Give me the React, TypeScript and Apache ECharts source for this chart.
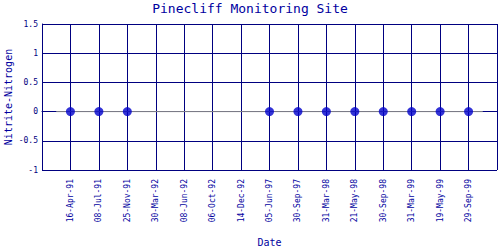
import React, { useEffect, useRef } from "react";
import * as echarts from "echarts";

const categories = [
  "16-Apr-91", "08-Jul-91", "25-Nov-91", "30-Mar-92", "08-Jun-92", "06-Oct-92", "14-Dec-92",
  "05-Jun-97", "30-Sep-97", "31-Mar-98", "21-May-98", "30-Sep-98", "31-Mar-99", "19-May-99", "29-Sep-99",
];
const values: (number | null)[] = [0, 0, 0, null, null, null, null, 0, 0, 0, 0, 0, 0, 0, 0];
const yTicks = { min: -1, max: 1.5, interval: 0.5 };

const NAVY = "#000080";
const FONT = "DejaVu Sans Mono";

export default function App() {
  const ref = useRef<HTMLDivElement>(null);
  useEffect(() => {
    if (!ref.current) return;
    const chart = echarts.init(ref.current, undefined, { renderer: "svg" });
    const n = categories.length;
    const points = values
      .map((v, i) => (v === null ? null : [i + 1, v]))
      .filter((p) => p !== null);
    chart.setOption({
      animation: false,
      backgroundColor: "#ffffff",
      title: {
        text: "Pinecliff Monitoring Site",
        left: "center",
        top: -3,
        textStyle: { fontFamily: FONT, fontSize: 13, fontWeight: "normal", color: "#0000a0" },
      },
      grid: { left: 42, right: 3, top: 24, bottom: 80, containLabel: false, outerBoundsMode: "none" },
      xAxis: {
        type: "value",
        min: 0,
        max: n + 1,
        interval: 1,
        name: "Date",
        nameLocation: "middle",
        nameGap: 67,
        nameMoveOverlap: false,
        nameTextStyle: { fontFamily: FONT, fontSize: 10, color: "#0000a0" },
        axisLine: { show: true, lineStyle: { color: NAVY, width: 1 } },
        axisTick: { show: false },
        splitLine: { show: true, lineStyle: { color: NAVY, width: 1 } },
        axisLabel: {
          rotate: 90,
          margin: 9,
          fontFamily: FONT,
          fontSize: 8,
          color: "#0000a0",
          showMinLabel: true,
          showMaxLabel: true,
          formatter: (v: number) => categories[v - 1] ?? "",
        },
      },
      yAxis: {
        type: "value",
        min: yTicks.min,
        max: yTicks.max,
        interval: yTicks.interval,
        name: "Nitrite-Nitrogen",
        nameLocation: "middle",
        nameGap: 29,
        nameMoveOverlap: false,
        nameTextStyle: { fontFamily: FONT, fontSize: 10, color: "#0000a0" },
        axisLine: { show: true, lineStyle: { color: NAVY, width: 1 } },
        axisTick: { show: false },
        splitLine: { show: true, lineStyle: { color: NAVY, width: 1 } },
        axisLabel: { fontFamily: FONT, fontSize: 8, color: "#000080", margin: 4 },
      },
      series: [
        {
          type: "line",
          data: [[0.5, 0], [n + 0.5, 0]],
          symbol: "none",
          lineStyle: { color: "#888888", width: 1 },
          z: 2,
          silent: true,
        },
        {
          type: "scatter",
          data: points,
          symbol: "circle",
          symbolSize: 9,
          itemStyle: { color: "#0000cc" },
          z: 3,
        },
      ],
    });
    return () => chart.dispose();
  }, []);
  return <div ref={ref} style={{ width: 500, height: 250, position: "absolute", left: 0, top: 0 }} />;
}
